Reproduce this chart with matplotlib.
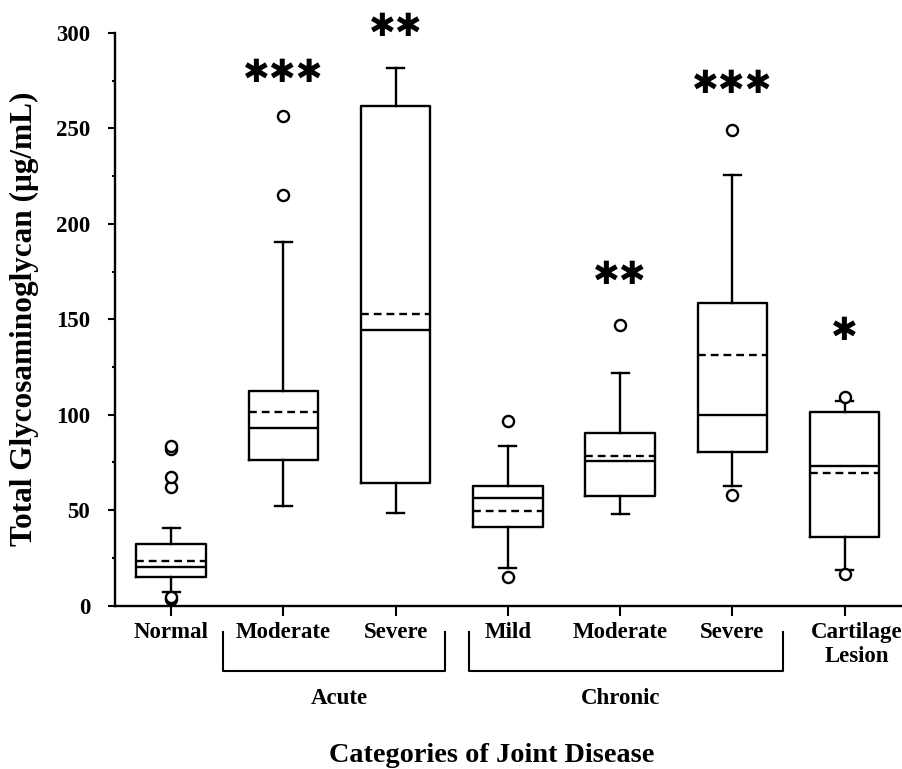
import matplotlib
matplotlib.use("Agg")
import matplotlib.pyplot as plt
import matplotlib.transforms as mtransforms

# ---- data ----
categories = ["Normal", "Moderate", "Severe", "Mild", "Moderate", "Severe", "Cartilage\nLesion"]
q1      = [15.2, 76.5, 64.4, 41.0, 57.6, 80.6, 36.1]
median  = [20.1, 93.1, 144.4, 56.2, 75.9, 99.9, 73.1]
q3      = [32.4, 112.3, 261.8, 62.6, 90.2, 158.4, 101.6]
mean    = [23.5, 101.5, 152.8, 49.4, 78.4, 131.3, 69.6]
whislo  = [7.0, 52.3, 48.3, 19.8, 48.0, 62.6, 18.6]
whishi  = [40.6, 190.7, 281.5, 83.6, 121.7, 225.6, 107.2]
fliers  = [[3.5, 4.5, 62.0, 67.5, 82.0, 83.5],
           [215.0, 256.7],
           [],
           [15.1, 96.7],
           [147.0],
           [57.9, 249.2],
           [16.5, 109.4]]
stars   = ["", "\u2731\u2731\u2731", "\u2731\u2731", "", "\u2731\u2731", "\u2731\u2731\u2731", "\u2731"]
star_y  = [0, 279, 303, 0, 173, 273, 143.5]
groups  = ["Acute", "Chronic"]
group_center = [2.5, 5.0]
group_span = [(1.46, 3.44), (3.65, 6.45)]
yticks = [0, 50, 100, 150, 200, 250, 300]

serif = "Liberation Serif"
plt.rcParams["font.family"] = [serif, "DejaVu Serif"]

fig = plt.figure(figsize=(9.03, 7.69), dpi=100)
ax = fig.add_axes([0.1274, 0.2126, 0.8726, 0.7445])

stats = []
for i in range(len(categories)):
    stats.append(dict(med=median[i], q1=q1[i], q3=q3[i], mean=mean[i],
                      whislo=whislo[i], whishi=whishi[i], fliers=fliers[i]))

positions = list(range(1, len(categories) + 1))
lw = 1.7
ax.bxp(stats, positions=positions, widths=0.62, showmeans=True, meanline=True,
       capwidths=0.15,
       boxprops=dict(color="black", linewidth=lw),
       whiskerprops=dict(color="black", linewidth=lw),
       capprops=dict(color="black", linewidth=lw),
       medianprops=dict(color="black", linewidth=lw),
       meanprops=dict(color="black", linewidth=lw, linestyle=(0, (3.3, 2.1))),
       flierprops=dict(marker="o", markersize=8, markerfacecolor="white",
                       markeredgecolor="black", markeredgewidth=1.7))

ax.set_xlim(0.5, 7.52)
ax.set_ylim(0, 300)
for s in ["top", "right"]:
    ax.spines[s].set_visible(False)
for s in ["left", "bottom"]:
    ax.spines[s].set_linewidth(1.7)

ax.set_yticks(yticks)
ax.set_yticklabels([str(v) for v in yticks], fontsize=16.5, fontweight="bold")
ax.set_yticks(range(25, 300, 50), minor=True)
ax.tick_params(axis="y", which="major", direction="out", length=5, width=1.5, pad=13)
ax.tick_params(axis="y", which="minor", direction="out", length=2.5, width=1.5)

ax.set_xticks(positions)
ax.set_xticklabels(categories, fontsize=16.5, fontweight="bold", linespacing=1.15)
ax.tick_params(axis="x", which="major", direction="out", length=7, width=1.5, pad=5)
off = mtransforms.ScaledTranslation(12 / 100, 0, fig.dpi_scale_trans)
lab = ax.get_xticklabels()[-1]
lab.set_transform(lab.get_transform() + off)

ax.set_ylabel("Total Glycosaminoglycan (\u03bcg/mL)", fontsize=22.5, fontweight="bold")
ax.yaxis.set_label_coords(-0.097, 0.5)

# significance stars
for x, s, y in zip(positions, stars, star_y):
    if s:
        ax.text(x, y, s, ha="center", va="center", fontsize=23,
                family="DejaVu Sans", clip_on=False)

# group brackets
trans = mtransforms.blended_transform_factory(ax.transData, ax.transAxes)
for name, xc, (x0, x1) in zip(groups, group_center, group_span):
    ax.plot([x0, x0, x1, x1], [-0.046, -0.114, -0.114, -0.046], color="black",
            linewidth=1.5, transform=trans, clip_on=False)
    ax.text(xc, -0.162, name, transform=trans,
            ha="center", va="center", fontsize=16.5, fontweight="bold")

fig.text(0.544, 0.018, "Categories of Joint Disease", ha="center", va="center",
         fontsize=20.3, fontweight="bold")

fig.savefig("out.png", dpi=100)
